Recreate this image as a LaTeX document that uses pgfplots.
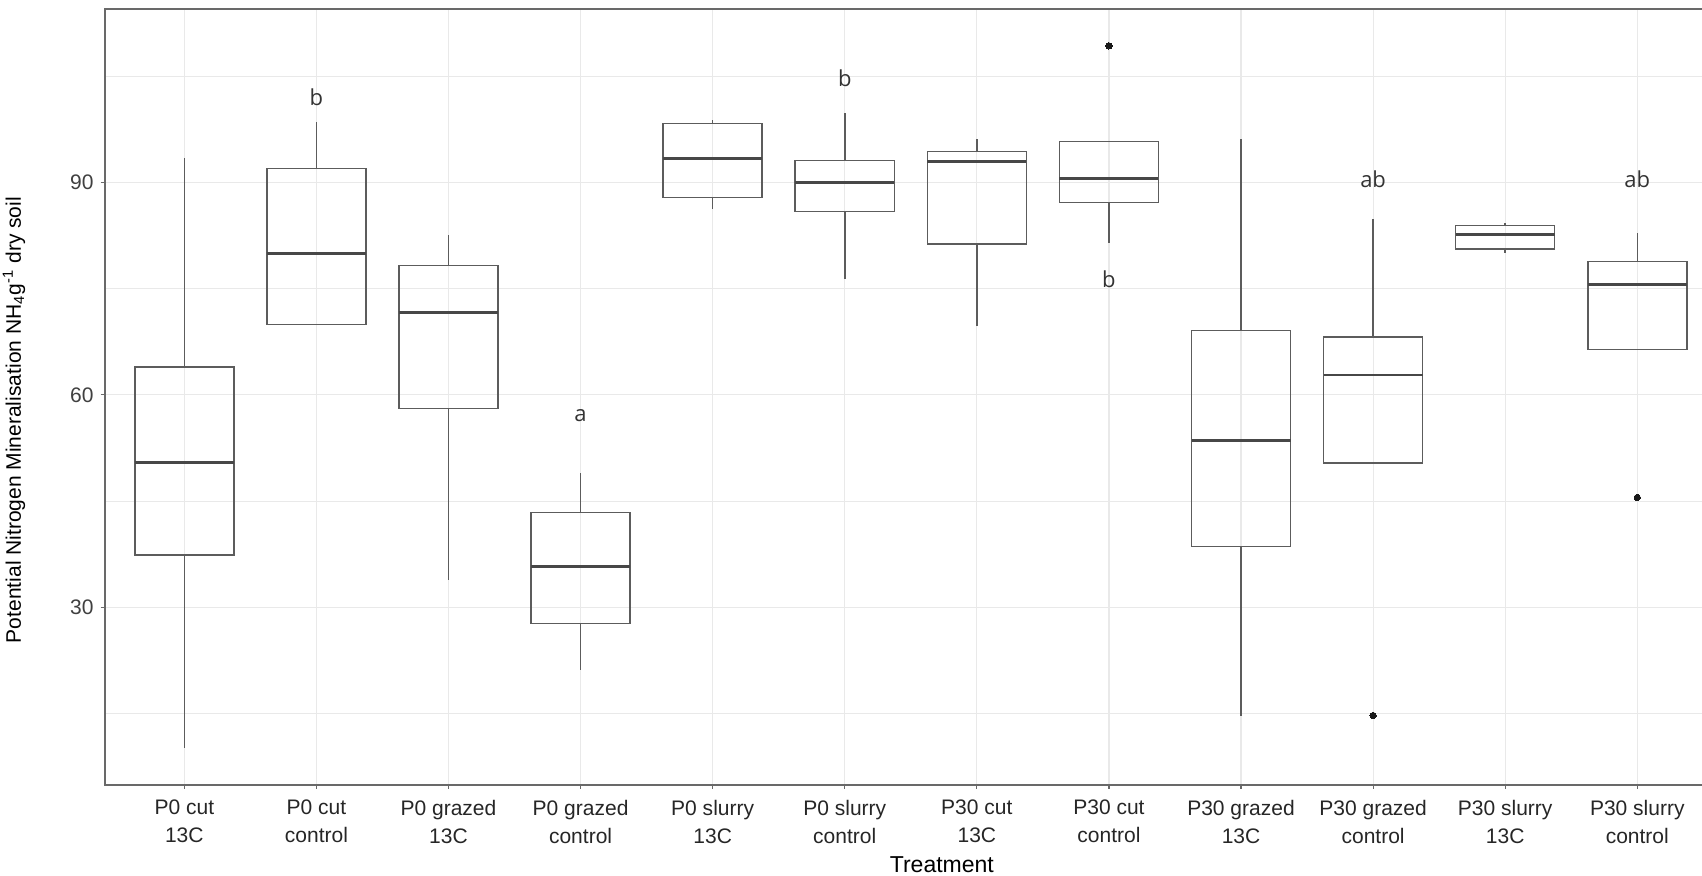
\documentclass[border=0pt]{standalone}
\usepackage{pgfplots}
\pgfplotsset{compat=1.18}
\usepgfplotslibrary{statistics}
\usepackage{fontspec}
\setmainfont{Liberation Sans}
\newfontfamily\letterfont{Open Sans}
\definecolor{boxline}{RGB}{92,92,92}
\definecolor{gridgrey}{RGB}{233,233,233}
\definecolor{framegrey}{RGB}{105,105,105}

\pgfplotsset{
  nbox/.style={
    boxline, line width=0.75pt, solid,
    mark=*, mark size=1.6pt, mark options={fill=black!90, draw=black!90, line width=0pt},
    boxplot/draw direction=y,
    boxplot/box extend=0.75,
    boxplot/whisker extend=0,
    boxplot/every median/.style={line width=1.45pt, draw=black!72},
  },
}

\begin{document}
\begin{tikzpicture}
\begin{axis}[
  scale only axis,
  width=797.9pt, height=387.5pt,
  xmin=0.4, xmax=12.49,
  ymin=4.95, ymax=114.5,
  clip=false,
  axis line style={draw=none},
  xtick={1,2,3,4,5,6,7,8,9,10,11,12},
  xticklabels={{P0 cut\\13C},{P0 cut\\control},{P0 grazed\\13C},{P0 grazed\\control},
               {P0 slurry\\13C},{P0 slurry\\control},{P30 cut\\13C},{P30 cut\\control},
               {P30 grazed\\13C},{P30 grazed\\control},{P30 slurry\\13C},{P30 slurry\\control}},
  xticklabel style={align=center, font=\fontsize{10.5}{14}\selectfont, text=black!85, yshift=-2pt},
  ytick={30,60,90},
  minor ytick={15,45,75,105},
  yticklabel style={font=\fontsize{10.5}{12}\selectfont, text=black!75},
  /pgf/number format/assume math mode=true,
  grid=both,
  major grid style={gridgrey, line width=0.6pt},
  minor grid style={gridgrey, line width=0.4pt},
  tick pos=left, tick align=outside,
  major tick length=2.2pt, minor tick length=0pt,
  tick style={framegrey, line width=0.6pt},
  xlabel={Treatment},
  xlabel style={font=\fontsize{11.5}{12}\selectfont, at={(axis description cs:0.524,-0.103)}, anchor=center},
  ylabel={Potential Nitrogen Mineralisation NH\textsubscript{4}g\textsuperscript{-1} dry soil},
  ylabel style={font=\fontsize{10.5}{12}\selectfont, at={(axis description cs:-0.057,0.47)}, anchor=center},
]

% P0 cut 13C
\addplot[nbox, boxplot prepared={draw position=1, lower whisker=10.1, lower quartile=37.4, median=50.4, upper quartile=63.9, upper whisker=93.5}] coordinates {};
% P0 cut control
\addplot[nbox, boxplot prepared={draw position=2, lower whisker=69.9, lower quartile=69.9, median=79.9, upper quartile=92.0, upper whisker=98.6}] coordinates {};
% P0 grazed 13C
\addplot[nbox, boxplot prepared={draw position=3, lower whisker=33.8, lower quartile=58.1, median=71.6, upper quartile=78.3, upper whisker=82.6}] coordinates {};
% P0 grazed control
\addplot[nbox, boxplot prepared={draw position=4, lower whisker=21.1, lower quartile=27.7, median=35.8, upper quartile=43.4, upper whisker=48.9}] coordinates {};
% P0 slurry 13C
\addplot[nbox, boxplot prepared={draw position=5, lower whisker=86.2, lower quartile=87.9, median=93.4, upper quartile=98.3, upper whisker=98.8}] coordinates {};
% P0 slurry control
\addplot[nbox, boxplot prepared={draw position=6, lower whisker=76.3, lower quartile=85.9, median=90.0, upper quartile=93.1, upper whisker=99.8}] coordinates {};
% P30 cut 13C
\addplot[nbox, boxplot prepared={draw position=7, lower whisker=69.7, lower quartile=81.3, median=92.9, upper quartile=94.4, upper whisker=96.1}] coordinates {};
% P30 cut control
\addplot[nbox, boxplot prepared={draw position=8, lower whisker=81.4, lower quartile=87.2, median=90.5, upper quartile=95.8, upper whisker=95.8}] table[row sep=\\, header=false, y index=0] {109.3\\};
% P30 grazed 13C
\addplot[nbox, boxplot prepared={draw position=9, lower whisker=14.7, lower quartile=38.6, median=53.6, upper quartile=69.1, upper whisker=96.1}] coordinates {};
% P30 grazed control
\addplot[nbox, boxplot prepared={draw position=10, lower whisker=50.4, lower quartile=50.4, median=62.8, upper quartile=68.2, upper whisker=84.8}] table[row sep=\\, header=false, y index=0] {14.7\\};
% P30 slurry 13C
\addplot[nbox, boxplot prepared={draw position=11, lower whisker=80.0, lower quartile=80.6, median=82.6, upper quartile=83.9, upper whisker=84.3}] coordinates {};
% P30 slurry control
\addplot[nbox, boxplot prepared={draw position=12, lower whisker=66.4, lower quartile=66.4, median=75.6, upper quartile=78.8, upper whisker=82.8}] table[row sep=\\, header=false, y index=0] {45.5\\};

% significance letters
\addplot[draw=none, mark=none, nodes near coords, point meta=explicit symbolic,
  nodes near coords style={font=\letterfont\fontsize{11}{12}\selectfont, text=black!80, anchor=center}]
  table[row sep=\\, meta=lab] {
  x y lab\\
  2 102.0 b\\
  4 57.0 a\\
  6 104.7 b\\
  8 76.3 b\\
  10 90.5 ab\\
  12 90.5 ab\\
};

% panel border (right side falls outside the page)
\draw[framegrey, line width=1pt] (rel axis cs:1.01,1) -- (rel axis cs:0,1) -- (rel axis cs:0,0) -- (rel axis cs:1.01,0);
\coordinate (sw) at (rel axis cs:0,0);
\coordinate (ne) at (rel axis cs:1,1);
\end{axis}
\pgfresetboundingbox
\path[use as bounding box] ([xshift=-52.5pt,yshift=-45.5pt]sw) rectangle ([yshift=4.5pt]ne);
\end{tikzpicture}
\end{document}
